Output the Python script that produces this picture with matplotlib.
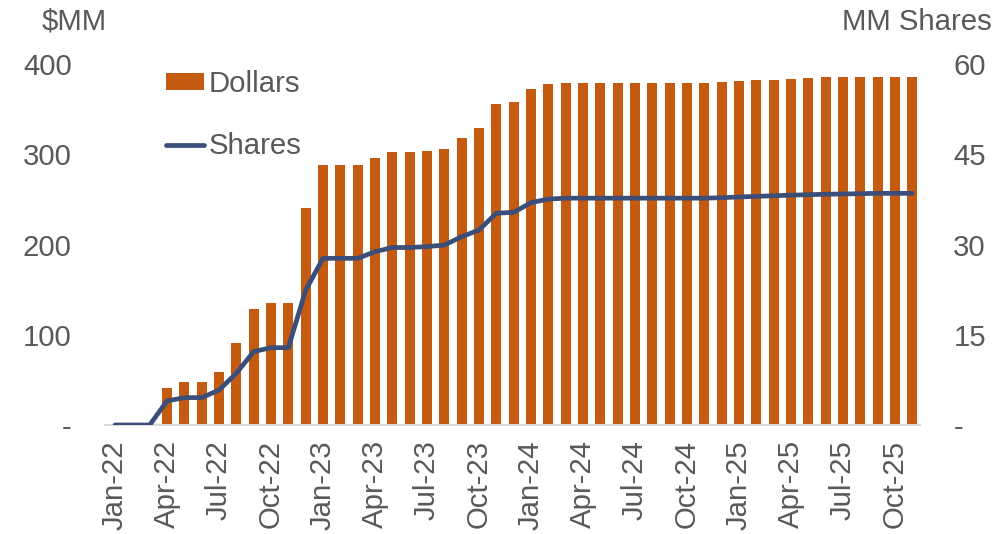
import matplotlib
matplotlib.use("Agg")
import matplotlib.pyplot as plt
from matplotlib.lines import Line2D
from matplotlib.patches import Patch

plt.rcParams['font.family'] = ['Liberation Sans', 'DejaVu Sans']

months = ['Jan', 'Feb', 'Mar', 'Apr', 'May', 'Jun', 'Jul', 'Aug', 'Sep', 'Oct', 'Nov', 'Dec']
categories = [f"{m}-{y}" for y in ['22', '23', '24', '25'] for m in months][:47]

dollars = [0, 0, 0, 40.6, 47.3, 47.3, 58.4, 90.5, 128.5, 134.8, 134.8, 240.8,
           288.1, 288.1, 288.1, 296.2, 302.1, 302.1, 303.2, 305.8, 318.0, 328.7, 356.0, 357.9,
           372.3, 378.2, 379.3, 379.3, 379.3, 379.3, 379.3, 379.3, 379.3, 379.3, 379.3, 380.0,
           380.8, 381.9, 382.6, 383.8, 384.1, 385.2, 385.9, 385.9, 385.9, 385.9, 385.9]

shares = [0, 0, 0, 4.0, 4.55, 4.55, 5.8, 8.6, 12.2, 12.85, 12.85, 22.4,
          27.7, 27.7, 27.7, 28.8, 29.5, 29.5, 29.65, 29.9, 31.3, 32.4, 35.2, 35.35,
          36.95, 37.55, 37.7, 37.7, 37.7, 37.7, 37.7, 37.7, 37.7, 37.7, 37.7, 37.78,
          37.9, 38.0, 38.1, 38.2, 38.28, 38.35, 38.4, 38.45, 38.5, 38.5, 38.5]

left_ticks = [0, 100, 200, 300, 400]
left_labels = ['-', '100', '200', '300', '400']
right_ticks = [0, 15, 30, 45, 60]
right_labels = ['-', '15', '30', '45', '60']

bar_color = '#C55A11'
line_color = '#3B4E7A'
text_color = '#595959'
fs = 21.2

fig = plt.figure(figsize=(9.97, 5.34), dpi=100)
ax = fig.add_axes([105/997, 1 - 425/534, 815/997, (425 - 64)/534])
ax2 = ax.twinx()

x = list(range(len(categories)))
ax.bar(x, dollars, width=0.58, color=bar_color, zorder=2)
ax2.plot(x, shares, color=line_color, lw=3.4, solid_capstyle='round', zorder=3)

ax.set_xlim(-0.58, 46.45)
ax.set_ylim(0, 400)
ax2.set_ylim(0, 60)

ax.set_yticks(left_ticks)
ax.set_yticklabels(left_labels)
ax2.set_yticks(right_ticks)
ax2.set_yticklabels(right_labels)

ax.set_xticks(x[::3])
ax.set_xticklabels(categories[::3], rotation=90)

for a in (ax, ax2):
    for s in a.spines.values():
        s.set_visible(False)
    a.tick_params(length=0, labelsize=fs, labelcolor=text_color)
ax.spines['bottom'].set_visible(True)
ax.spines['bottom'].set_color('#D9D9D9')
ax.spines['bottom'].set_linewidth(1.5)
ax.tick_params(axis='y', pad=24)
ax2.tick_params(axis='y', pad=24)
ax.tick_params(axis='x', pad=11)

fig.text(42/997, 1 - 22/534, '$MM', fontsize=fs, color=text_color, ha='left', va='center')
fig.text(992/997, 1 - 22/534, 'MM Shares', fontsize=fs, color=text_color, ha='right', va='center')

handles = [Patch(facecolor=bar_color, edgecolor='none'),
           Line2D([0], [0], color=line_color, lw=3.4, solid_capstyle='round')]
leg = ax.legend(handles, ['Dollars', 'Shares'], loc='upper left', bbox_to_anchor=(0.075, 0.983),
                frameon=False, fontsize=fs, labelcolor=text_color, borderpad=0, borderaxespad=0,
                handlelength=1.3, handleheight=0.5, handletextpad=0.15, labelspacing=1.15)
leg.set_zorder(5)

fig.savefig('out.png', dpi=100)
